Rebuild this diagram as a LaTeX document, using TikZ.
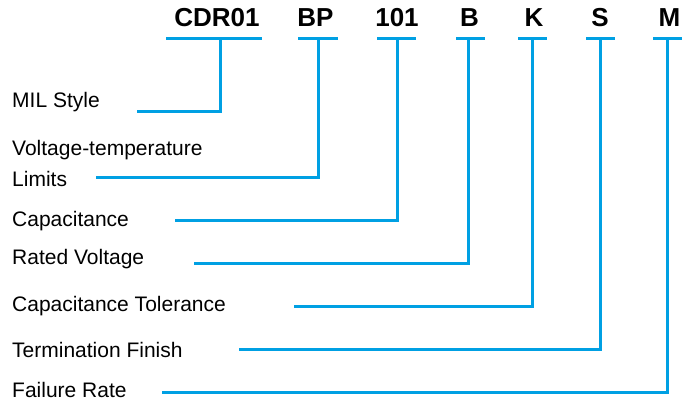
\documentclass[tikz,border=0pt]{standalone}
\usepackage{fontspec}
\setmainfont{Liberation Sans}
\definecolor{partblue}{RGB}{0,160,227}
\begin{document}
\begin{tikzpicture}[x=1pt,y=-1pt,
    code/.style={anchor=base,inner sep=0pt,font=\bfseries\fontsize{26}{30}\selectfont},
    field/.style={anchor=base west,inner sep=0pt,font=\fontsize{21}{25}\selectfont},
    partline/.style={partblue,line width=3pt}]
  \useasboundingbox (0,0) rectangle (688,403);

  % part number and its underlines
  \foreach \n/\t/\x in {cdr/CDR01/217,bp/BP/315.5,num/101/397,volt/B/469.5,tol/K/534,fin/S/600,rate/M/669.5}{
    \node[code] (\n) at (\x,27) {\t};
  }
  \foreach \n/\l/\r/\s in {cdr/166/262/220,bp/298/338/318,num/377/416/397,volt/456/485/468,tol/518/547/532,fin/586/615/600,rate/653/682/667}{
    \draw[partline] (\l,39) -- (\r,39);
    \coordinate (\n-bar) at (\s,39);
  }

  % fields
  \node[field] (mil) at (12,108) {MIL Style};
  \node[field] (vt) at (12,156) {Voltage-temperature};
  \node[field] (lim) at (12,187) {Limits};
  \node[field] (cap) at (12,227) {Capacitance};
  \node[field] (rv) at (12,265) {Rated Voltage};
  \node[field] (ct) at (12,312) {Capacitance Tolerance};
  \node[field] (tf) at (12,357) {Termination Finish};
  \node[field] (fr) at (12,397) {Failure Rate};

  \coordinate (mil-end) at (137,112);
  \coordinate (lim-end) at (96,178);
  \coordinate (cap-end) at (175,221);
  \coordinate (rv-end) at (194,264);
  \coordinate (ct-end) at (294,307);
  \coordinate (tf-end) at (239,349);
  \coordinate (fr-end) at (162,392);

  \foreach \a/\b in {cdr/mil,bp/lim,num/cap,volt/rv,tol/ct,fin/tf,rate/fr}{
    \draw[partline] (\a-bar) |- (\b-end);
  }
\end{tikzpicture}
\end{document}
